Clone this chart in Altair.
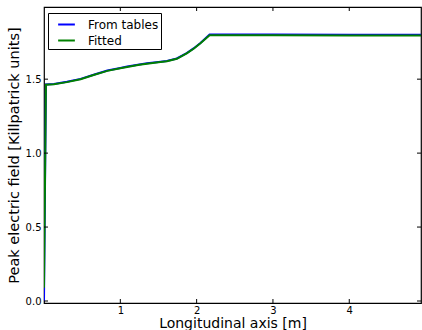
import altair as alt
import pandas as pd

# Peak field along the structure: tabulated values and fitted profile
table_x = [0.0, 0.025, 0.13, 0.30, 0.48, 0.65, 0.83, 1.00, 1.09, 1.25, 1.35, 1.50, 1.61, 1.74, 1.87, 1.96, 2.05, 2.17, 3.00, 4.00, 4.94]
table_y = [0.0, 1.464, 1.467, 1.482, 1.502, 1.530, 1.558, 1.576, 1.585, 1.599, 1.607, 1.616, 1.623, 1.640, 1.676, 1.708, 1.745, 1.802, 1.802, 1.801, 1.801]

fit_x = [0.0, 0.025, 0.13, 0.30, 0.48, 0.65, 0.83, 1.00, 1.09, 1.25, 1.35, 1.50, 1.61, 1.74, 1.87, 1.96, 2.05, 2.17, 3.00, 4.00, 4.94]
fit_y = [0.09, 1.462, 1.465, 1.480, 1.500, 1.528, 1.556, 1.574, 1.583, 1.597, 1.605, 1.614, 1.621, 1.638, 1.674, 1.706, 1.743, 1.797, 1.797, 1.796, 1.795]

series_names = ["From tables", "Fitted"]
series_colors = ["#0000ff", "#008000"]

x_ticks = [1, 2, 3, 4]
y_ticks = [0.0, 0.5, 1.0, 1.5]

df = pd.concat([
    pd.DataFrame({"x": table_x, "y": table_y, "series": series_names[0], "order": 0}),
    pd.DataFrame({"x": fit_x, "y": fit_y, "series": series_names[1], "order": 1}),
])

W, H = 377, 296
xs = alt.Scale(domain=[0, 4.94], nice=False, zero=False)
ys = alt.Scale(domain=[-0.0135, 1.988], nice=False, zero=False)
font = "DejaVu Sans"

lines = alt.Chart(df).mark_line(strokeWidth=2, clip=True).encode(
    x=alt.X("x:Q", scale=xs, title="Longitudinal axis [m]",
            axis=alt.Axis(values=x_ticks, format="d", ticks=False, grid=False, domain=False,
                          labelFontSize=10, labelFont=font, labelColor="black", labelPadding=2,
                          titleFontSize=14, titleFont=font, titleFontWeight="normal",
                          titleColor="black", titlePadding=1)),
    y=alt.Y("y:Q", scale=ys, title="Peak electric field [Killpatrick units]",
            axis=alt.Axis(values=y_ticks, format=".1f", ticks=False, grid=False, domain=False,
                          labelFontSize=10, labelFont=font, labelColor="black", labelPadding=3,
                          titleFontSize=14.5, titleFont=font, titleFontWeight="normal",
                          titleColor="black", titlePadding=4)),
    color=alt.Color("series:N", scale=alt.Scale(domain=series_names, range=series_colors),
                    legend=alt.Legend(title=None, orient="none", legendX=4, legendY=6,
                                      fillColor="white", strokeColor="black", padding=2,
                                      cornerRadius=0, symbolType="stroke", symbolStrokeWidth=2,
                                      symbolSize=280, symbolOffset=7, labelFontSize=12,
                                      labelFont=font, labelColor="black", rowPadding=0,
                                      labelOffset=12)),
    order="order:Q",
)

xt = pd.DataFrame({"v": x_ticks})
yt = pd.DataFrame({"v": y_ticks})
tick_len = 4

x_bottom = alt.Chart(xt).mark_rule(color="black").encode(
    x=alt.X("v:Q", scale=xs), y=alt.value(H), y2=alt.value(H - tick_len))
x_top = alt.Chart(xt).mark_rule(color="black").encode(
    x=alt.X("v:Q", scale=xs), y=alt.value(0), y2=alt.value(tick_len))
y_left = alt.Chart(yt).mark_rule(color="black").encode(
    y=alt.Y("v:Q", scale=ys), x=alt.value(0), x2=alt.value(tick_len))
y_right = alt.Chart(yt).mark_rule(color="black").encode(
    y=alt.Y("v:Q", scale=ys), x=alt.value(W), x2=alt.value(W - tick_len))

chart = alt.layer(lines, x_bottom, x_top, y_left, y_right).properties(
    width=W, height=H,
    autosize=alt.AutoSizeParams(type="none"),
    padding={"left": 44, "top": 7, "right": 1, "bottom": 27},
    background="white",
).configure_view(stroke="black", strokeWidth=1.2)

chart.save("out.html", embed_options={"renderer": "svg", "actions": False})
